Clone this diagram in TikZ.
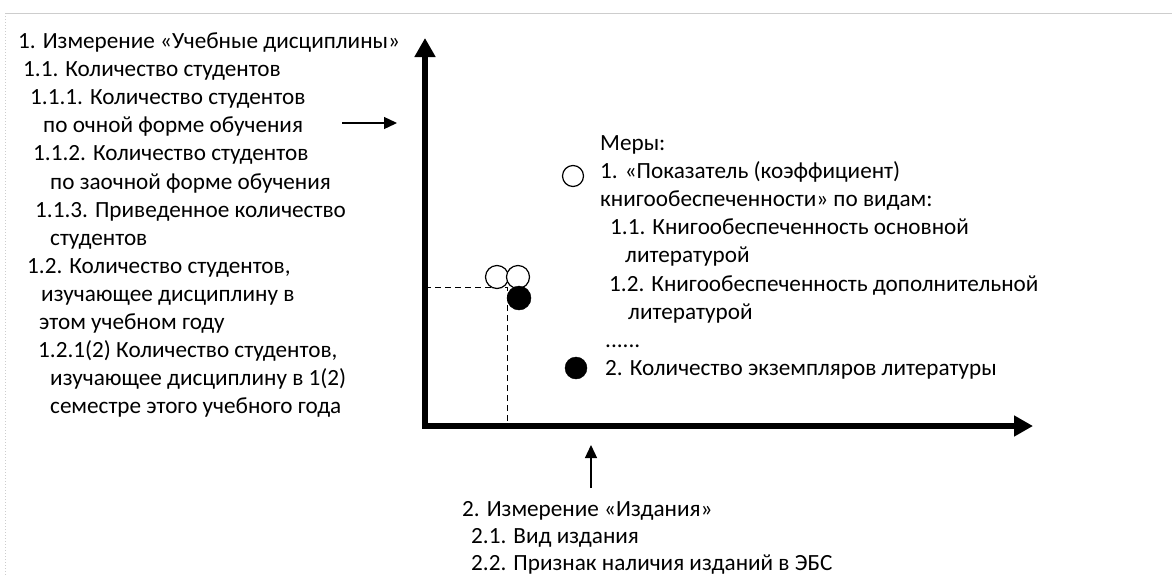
\documentclass[tikz,border=0pt]{standalone}
\usepackage{fontspec}
\setmainfont{Carlito}
\usetikzlibrary{arrows.meta,positioning}
\definecolor{framegray}{RGB}{205,205,205}
\tikzset{
    %Define standard arrow tip
    >={Triangle[length=13pt,width=12pt]},
    txt/.style={
      anchor=west,
      inner sep=0pt,
      font=\fontsize{23.2}{27}\selectfont,
      text height=16pt,
      text depth=5pt},
    axisline/.style={
      line width=5.5pt,
      line join=miter,
      {Triangle[length=19pt,width=20pt]}-{Triangle[length=19pt,width=20pt]}},
    pointer/.style={
      ->,
      line width=1.3pt},
    guide/.style={
      line width=1pt,
      dash pattern=on 6pt off 4pt},
    hollowpt/.style={
      circle,
      draw=black, line width=1.2pt,
      fill=white,
      minimum size=23pt, inner sep=0pt},
    fullpt/.style={
      circle,
      draw=black, fill=black,
      minimum size=24pt, inner sep=0pt},
}
\begin{document}
\begin{tikzpicture}[x=1pt, y=-1pt]
    \useasboundingbox (0,0) rectangle (1172,576);
    % page frame
    \draw [framegray, line width=1pt] (5,13) -- (1172,13);
    \draw [framegray, line width=1pt, dotted] (5,13) -- (5,576);
    % axes
    \coordinate (origin) at (425,426);
    \coordinate (ytip) at (425,38);
    \coordinate (xtip) at (1033,426);
    \coordinate (cellpt) at (507,287);
    \draw [guide] (ytip |- cellpt) -- (cellpt) -- (cellpt |- origin);
    \draw [axisline] (ytip) -- (origin) -- (xtip);
    % cube cell
    \node (cellA) [hollowpt] at (497,277) {};
    \node (cellB) [hollowpt] at (518,277) {};
    \node (cellC) [fullpt] at (519,298) {};
    % dimension 1
    \node (edu0) [txt] at (18,43)
          {1. Измерение «Учебные дисциплины»};
    \node (edu1) [txt] [below right=6.7pt and 5pt of edu0.south west]
          {1.1. Количество студентов};
    \node (edu2) [txt] [below right=6.7pt and 7pt of edu1.south west]
          {1.1.1. Количество студентов};
    \node (edu3) [txt] [below right=6.7pt and 13pt of edu2.south west]
          {по очной форме обучения};
    \node (edu4) [txt] [below right=6.7pt and -10pt of edu3.south west]
          {1.1.2. Количество студентов};
    \node (edu5) [txt] [below right=6.7pt and 17pt of edu4.south west]
          {по заочной форме обучения};
    \node (edu6) [txt] [below right=6.7pt and -15pt of edu5.south west]
          {1.1.3. Приведенное количество};
    \node (edu7) [txt] [below right=6.7pt and 15pt of edu6.south west]
          {студентов};
    \node (edu8) [txt] [below right=6.7pt and -23pt of edu7.south west]
          {1.2. Количество студентов,};
    \node (edu9) [txt] [below right=6.7pt and 14pt of edu8.south west]
          {изучающее дисциплину в};
    \node (edu10) [txt] [below right=6.7pt and -2pt of edu9.south west]
          {этом учебном году};
    \node (edu11) [txt] [below right=6.7pt and -1pt of edu10.south west]
          {1.2.1(2) Количество студентов,};
    \node (edu12) [txt] [below right=6.7pt and 12pt of edu11.south west]
          {изучающее дисциплину в 1(2)};
    \node (edu13) [txt] [below right=6.7pt and 0pt of edu12.south west]
          {семестре этого учебного года};
    \coordinate (eduptr) at (342,123);
    \coordinate (eduend) at (397,123);
    \draw [pointer] (eduptr) -- (eduend);
    % measures
    \node (mes0) [txt] at (600,145)
          {Меры:};
    \node (mes1) [txt] [below right=6.7pt and 0pt of mes0.south west]
          {1. «Показатель (коэффициент)};
    \node (mes2) [txt] [below right=6.7pt and 0pt of mes1.south west]
          {книгообеспеченности» по видам:};
    \node (mes3) [txt] [below right=6.7pt and 10pt of mes2.south west]
          {1.1. Книгообеспеченность основной};
    \node (mes4) [txt] [below right=6.7pt and 15pt of mes3.south west]
          {литературой};
    \node (mes5) [txt] [below right=6.7pt and -16pt of mes4.south west]
          {1.2. Книгообеспеченность дополнительной};
    \node (mes6) [txt] [below right=6.7pt and 19pt of mes5.south west]
          {литературой};
    \node (mes7) [txt] [below right=6.7pt and -23pt of mes6.south west]
          {......};
    \node (mes8) [txt] [below right=6.7pt and 0pt of mes7.south west]
          {2. Количество экземпляров литературы};
    \node (keyhollow) [hollowpt, minimum size=21pt] at (573,176) {};
    \node (keyfull) [fullpt, minimum size=22pt] at (576,368) {};
    % dimension 2
    \node (pub0) [txt] at (462,511)
          {2. Измерение «Издания»};
    \node (pub1) [txt] [below right=5.7pt and 9pt of pub0.south west]
          {2.1. Вид издания};
    \node (pub2) [txt] [below right=5.7pt and 0pt of pub1.south west]
          {2.2. Признак наличия изданий в ЭБС};
    \coordinate (pubptr) at (591,488);
    \coordinate (pubend) at (591,445);
    \draw [pointer] (pubptr) -- (pubend);
\end{tikzpicture}
\end{document}
